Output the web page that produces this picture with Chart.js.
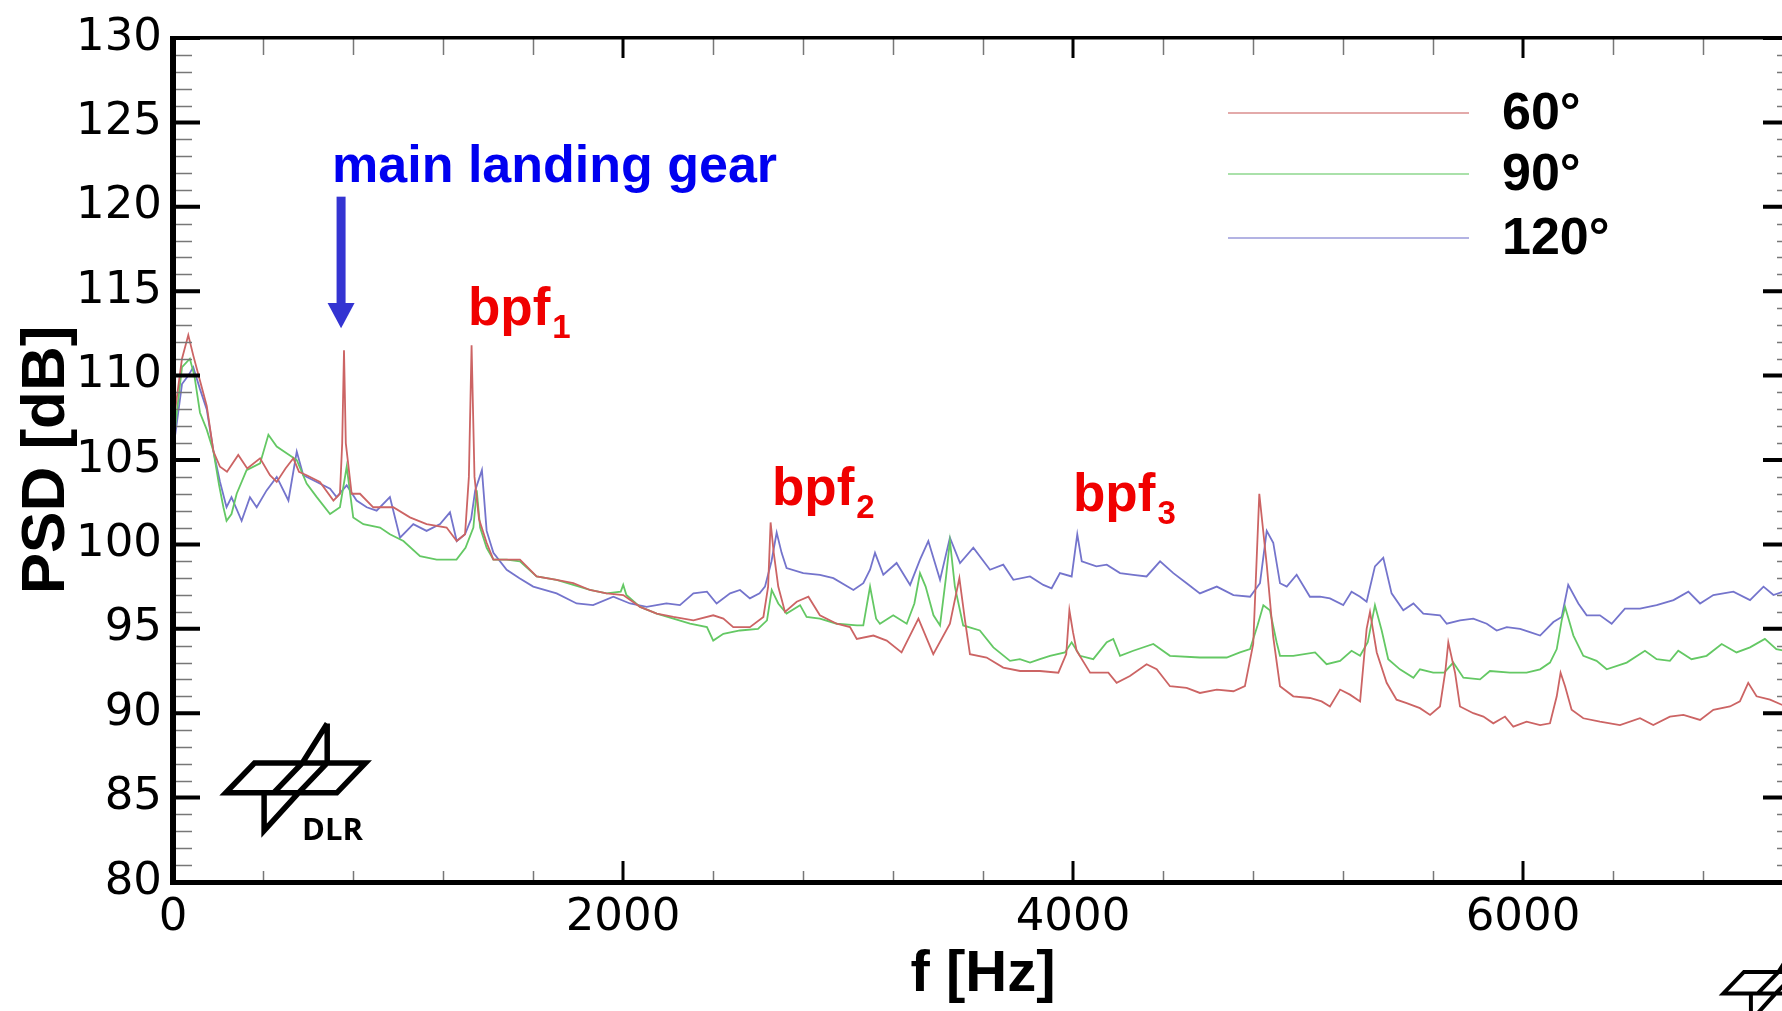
<!DOCTYPE html>
<html>
<head>
<meta charset="utf-8">
<title>PSD</title>
<script src="https://cdn.jsdelivr.net/npm/chart.js@4.4.0/dist/chart.umd.min.js"></script>
<style>
  html, body { margin: 0; padding: 0; background: #fff; overflow: hidden; }
  #wrap { width: 1800px; height: 1011px; }
</style>
</head>
<body>
<div id="wrap"><canvas id="canvas1" width="1800" height="1011"></canvas></div>
<script>
// frequency axis [Hz] and PSD [dB]
const freq60 = [10,40,68,90,120,150,180,209,240,290,330,387,431,461,500,535,560,594,653,713,742,752,760,768,794,831,890,979,1053,1127,1216,1261,1298,1315,1327,1340,1360,1394,1424,1483,1542,1616,1705,1779,1853,1927,2001,2076,2150,2224,2313,2401,2446,2490,2564,2624,2645,2656,2670,2690,2720,2772,2824,2875,2950,3009,3039,3113,3172,3238,3313,3379,3453,3495,3520,3542,3616,3690,3765,3853,3935,3970,3984,4000,4016,4076,4157,4194,4253,4327,4372,4431,4505,4564,4639,4713,4764,4801,4828,4861,4890,4920,4979,5053,5105,5142,5187,5231,5276,5305,5320,5350,5394,5438,5483,5542,5587,5631,5655,5668,5698,5720,5779,5824,5868,5920,5957,6016,6076,6120,6150,6167,6187,6216,6268,6342,6431,6520,6579,6653,6713,6787,6846,6920,6964,7001,7038,7098,7150,7200];
const psd60 = [108,111,112.4,111.2,109.7,108.2,105.5,104.6,104.3,105.3,104.5,105.1,104.1,103.7,104.5,105.1,104.3,104.1,103.7,102.6,103.0,106,111.5,106,103.0,103.0,102.2,102.2,101.6,101.2,101.0,100.2,100.6,104,111.8,104,101.5,100.1,99.1,99.1,99.1,98.1,97.9,97.7,97.3,97.1,97.0,96.3,95.9,95.7,95.5,95.8,95.6,95.1,95.1,95.7,97.5,101.3,99.5,97.5,96.0,96.6,96.9,95.8,95.3,95.1,94.4,94.6,94.3,93.6,95.6,93.5,95.3,98.0,95.5,93.5,93.3,92.7,92.5,92.5,92.4,93.5,96.1,94.8,93.7,92.4,92.4,91.8,92.2,92.9,92.6,91.6,91.5,91.2,91.4,91.3,91.6,94.1,103.0,98.8,94.5,91.6,91.0,90.9,90.7,90.4,91.4,91.1,90.7,95.0,96.0,93.6,91.8,90.8,90.6,90.3,89.9,90.4,92.5,94.2,92.4,90.4,90.0,89.8,89.4,89.8,89.2,89.5,89.3,89.4,91.0,92.4,91.6,90.2,89.7,89.5,89.3,89.7,89.3,89.8,89.9,89.6,90.2,90.4,90.7,91.8,91.0,90.8,90.5,90.3];

const freq90 = [10,40,75,95,120,150,180,205,224,238,260,283,327,387,424,461,505,550,594,639,698,742,772,801,846,920,964,1024,1098,1172,1260,1300,1335,1350,1365,1394,1424,1483,1542,1616,1705,1779,1853,1927,1990,2001,2015,2076,2150,2224,2298,2373,2401,2446,2520,2600,2640,2661,2690,2727,2787,2816,2875,2950,3040,3068,3098,3125,3142,3201,3261,3295,3320,3345,3380,3409,3435,3453,3475,3512,3586,3646,3720,3764,3809,3853,3898,3964,3994,4031,4090,4150,4179,4209,4268,4357,4431,4564,4683,4742,4787,4820,4846,4875,4905,4920,4979,5076,5127,5187,5238,5276,5310,5342,5372,5401,5453,5513,5542,5601,5650,5690,5735,5809,5853,5942,6016,6076,6120,6150,6172,6187,6224,6268,6327,6372,6461,6542,6594,6653,6690,6749,6816,6883,6949,7009,7075,7126,7200];
const psd90 = [107,110.5,111.0,110,107.8,106.8,105.5,103.5,102.2,101.4,101.8,103.0,104.4,104.8,106.5,105.8,105.4,105.0,103.6,102.8,101.8,102.2,104.6,101.6,101.2,101.0,100.6,100.2,99.3,99.1,99.1,99.8,101,103.2,101,99.8,99.1,99.1,99.0,98.1,97.9,97.6,97.3,97.1,97.2,97.6,97.0,96.3,95.9,95.6,95.3,95.1,94.3,94.7,94.9,95.0,95.5,97.3,96.5,95.9,96.4,95.7,95.6,95.3,95.2,95.2,97.5,95.6,95.3,95.8,95.3,96.5,98.3,97.5,95.8,95.2,98,100.2,97.5,95.2,94.9,93.9,93.1,93.2,93.0,93.2,93.4,93.6,94.2,93.4,93.2,94.2,94.4,93.4,93.7,94.1,93.4,93.3,93.3,93.6,93.8,95.2,96.4,96.1,94.2,93.4,93.4,93.6,92.9,93.1,93.7,93.4,94.2,96.4,94.9,93.2,92.6,92.1,92.6,92.4,92.4,93.0,92.1,92.0,92.5,92.4,92.4,92.6,93.0,93.8,95.5,96.3,94.6,93.4,93.1,92.6,93.0,93.7,93.2,93.1,93.7,93.2,93.4,94.1,93.6,93.9,94.4,93.8,93.6];

const freq120 = [10,40,68,90,120,150,180,209,238,260,305,342,372,416,461,513,550,579,639,698,727,772,816,861,905,964,1009,1068,1127,1187,1231,1261,1298,1325,1343,1373,1394,1424,1483,1540,1601,1705,1794,1867,1957,2031,2105,2193,2253,2313,2373,2416,2476,2520,2564,2607,2631,2660,2683,2705,2727,2801,2875,2935,3024,3068,3098,3120,3157,3216,3276,3320,3357,3409,3453,3498,3557,3631,3690,3735,3809,3868,3905,3942,3994,4019,4039,4104,4150,4209,4268,4327,4387,4446,4505,4564,4639,4713,4787,4831,4861,4890,4920,4950,4994,5053,5098,5142,5201,5238,5276,5305,5342,5379,5416,5468,5513,5557,5631,5661,5720,5779,5839,5883,5928,5987,6031,6076,6135,6172,6201,6246,6283,6342,6394,6453,6520,6594,6669,6735,6787,6846,6935,7009,7069,7113,7200];
const psd120 = [106.5,109.5,110,110.5,109.2,108.0,105.5,103.7,102.2,102.8,101.4,102.8,102.2,103.2,104.0,102.6,105.5,104.1,103.7,103.3,102.8,103.5,102.6,102.2,102.0,102.8,100.4,101.2,100.8,101.2,101.9,100.2,100.6,101.5,103.2,104.4,100.8,99.5,98.5,98.0,97.5,97.1,96.5,96.4,96.9,96.5,96.3,96.5,96.4,97.1,97.2,96.5,97.1,97.3,96.8,97.1,97.5,99,100.7,99.5,98.6,98.3,98.2,98.0,97.3,97.7,98.5,99.5,98.2,98.9,97.6,99.1,100.2,97.9,100.4,98.9,99.8,98.5,98.8,97.9,98.1,97.6,97.4,98.3,98.1,100.6,99.0,98.7,98.8,98.3,98.2,98.1,99.0,98.3,97.7,97.1,97.5,97.0,96.9,97.7,100.8,100.1,97.7,97.5,98.2,96.9,96.9,96.8,96.4,97.2,96.9,96.6,98.7,99.2,97.1,96.1,96.5,95.9,95.8,95.3,95.5,95.6,95.3,94.9,95.1,95.0,94.8,94.6,95.4,95.7,97.6,96.5,95.8,95.8,95.3,96.2,96.2,96.4,96.7,97.2,96.5,97.0,97.2,96.7,97.5,97.0,97.4];

const seriesLabels = ['60°', '90°', '120°'];
const seriesColors = ['#cc6464', '#64c864', '#7474cc'];
const xTickValues = [0, 2000, 4000, 6000];
const yTickValues = [80, 85, 90, 95, 100, 105, 110, 115, 120, 125, 130];

function pairs(fs, vs) {
  return fs.map(function (f, i) { return {x: f, y: vs[i]}; });
}

const tickFont = {family: '"DejaVu Sans", sans-serif', size: 45};
const boldFamily = '"Liberation Sans", Arial, sans-serif';

// frame with inward ticks on all four sides
const frame = {
  id: 'frame',
  afterDatasetsDraw(chart) {
    const {ctx, chartArea: a, scales: {x, y}} = chart;
    ctx.save();
    ctx.lineCap = 'butt';
    // minor ticks
    ctx.strokeStyle = '#777';
    ctx.lineWidth = 1.5;
    ctx.beginPath();
    for (let v = 81; v < 130; v++) {
      if (v % 5 === 0) continue;
      const py = Math.round(y.getPixelForValue(v)) + 0.5;
      ctx.moveTo(a.left, py); ctx.lineTo(a.left + 19, py);
      ctx.moveTo(a.right, py); ctx.lineTo(a.right - 16, py);
    }
    for (let f = 400; f < 7200; f += 400) {
      if (f % 2000 === 0) continue;
      const px = Math.round(x.getPixelForValue(f)) + 0.5;
      ctx.moveTo(px, a.bottom); ctx.lineTo(px, a.bottom - 11);
      ctx.moveTo(px, a.top); ctx.lineTo(px, a.top + 17);
    }
    ctx.stroke();
    // major ticks
    ctx.strokeStyle = '#000';
    ctx.lineWidth = 4;
    ctx.beginPath();
    yTickValues.forEach(function (v) {
      const py = y.getPixelForValue(v);
      ctx.moveTo(a.left, py); ctx.lineTo(a.left + 27, py);
      ctx.moveTo(a.right, py); ctx.lineTo(a.right - 30, py);
    });
    ctx.stroke();
    ctx.lineWidth = 3;
    ctx.beginPath();
    xTickValues.forEach(function (f) {
      const px = x.getPixelForValue(f);
      ctx.moveTo(px, a.bottom); ctx.lineTo(px, a.bottom - 21);
      ctx.moveTo(px, a.top); ctx.lineTo(px, a.top + 20);
    });
    ctx.stroke();
    // axis lines
    ctx.fillStyle = '#000';
    ctx.fillRect(a.left - 3, a.top - 2, 6, a.bottom - a.top + 4);
    ctx.fillRect(a.left - 3, a.bottom - 2, a.right - a.left + 6, 5);
    ctx.fillRect(a.left - 3, a.top - 2, a.right - a.left + 6, 3.5);
    ctx.fillRect(a.right - 2, a.top - 2, 3.5, a.bottom - a.top + 4);
    ctx.restore();
  }
};

// legend, annotations and DLR marks
function dlrLogo(ctx, ox, oy, s) {
  // ox, oy: top-left corner of the wing
  ctx.save();
  ctx.translate(ox, oy);
  ctx.scale(s, s);
  ctx.strokeStyle = '#000';
  ctx.lineWidth = 5.5;
  ctx.lineJoin = 'miter';
  ctx.beginPath();
  ctx.moveTo(0, 0); ctx.lineTo(111, 0); ctx.lineTo(82.3, 29.8); ctx.lineTo(-28.7, 29.8); ctx.closePath();
  ctx.moveTo(72.7, -39.5); ctx.lineTo(72.7, 0); ctx.lineTo(44, 29.8);
  ctx.moveTo(72.7, -39.5); ctx.lineTo(47.8, 0); ctx.lineTo(19.1, 29.8);
  ctx.moveTo(9.6, 29.8); ctx.lineTo(9.6, 67.6); ctx.lineTo(44, 29.8);
  ctx.stroke();
  ctx.restore();
}

const extras = {
  id: 'extras',
  afterDraw(chart) {
    const {ctx, chartArea: a, scales: {x, y}} = chart;
    ctx.save();
    // legend
    const legY = [113, 174, 238];
    ctx.font = 'bold 52px ' + boldFamily;
    ctx.textBaseline = 'alphabetic';
    chart.data.datasets.forEach(function (ds, i) {
      ctx.globalAlpha = 0.55;
      ctx.strokeStyle = ds.borderColor;
      ctx.lineWidth = 2;
      ctx.beginPath();
      ctx.moveTo(1228, legY[i]); ctx.lineTo(1469, legY[i]);
      ctx.stroke();
      ctx.globalAlpha = 1;
      ctx.fillStyle = '#000';
      ctx.fillText(ds.label, 1502, legY[i] + 16);
    });

    // arrow to the main landing gear peak
    const ax = x.getPixelForValue(747);
    const aTop = y.getPixelForValue(120.6);
    const aBase = y.getPixelForValue(114.3);
    const aTip = y.getPixelForValue(112.8);
    ctx.fillStyle = '#3434d2';
    ctx.fillRect(ax - 4.5, aTop, 9, aBase - aTop + 1);
    ctx.beginPath();
    ctx.moveTo(ax - 13.5, aBase); ctx.lineTo(ax + 13.5, aBase); ctx.lineTo(ax, aTip); ctx.closePath();
    ctx.fill();

    ctx.fillStyle = '#0000f0';
    ctx.font = 'bold 52px ' + boldFamily;
    ctx.fillText('main landing gear', x.getPixelForValue(707), y.getPixelForValue(121.45));

    // blade passing frequencies
    [['1', 1311, 113.0], ['2', 2662, 102.35], ['3', 4000, 101.95]].forEach(function (b) {
      const px = x.getPixelForValue(b[1]);
      const py = y.getPixelForValue(b[2]);
      ctx.fillStyle = '#f00000';
      ctx.font = 'bold 53px ' + boldFamily;
      ctx.fillText('bpf', px, py);
      const w = ctx.measureText('bpf').width;
      ctx.font = 'bold 33px ' + boldFamily;
      ctx.fillText(b[0], px + w + 2, py + 13);
    });

    // DLR logos
    dlrLogo(ctx, a.left + 81.5, a.bottom - 119, 1);
    ctx.fillStyle = '#000';
    ctx.font = 'bold 31px "Open Sans", "DejaVu Sans", sans-serif';
    ctx.fillText('DLR', a.left + 129, a.bottom - 42);
    dlrLogo(ctx, 1744, 972, 0.72);
    ctx.restore();
  }
};

new Chart(document.getElementById('canvas1'), {
  type: 'line',
  data: {
    datasets: [
      {label: seriesLabels[0], data: pairs(freq60, psd60), borderColor: seriesColors[0]},
      {label: seriesLabels[1], data: pairs(freq90, psd90), borderColor: seriesColors[1]},
      {label: seriesLabels[2], data: pairs(freq120, psd120), borderColor: seriesColors[2]}
    ].map(function (d) {
      d.borderWidth = 1.8;
      d.pointRadius = 0;
      d.tension = 0;
      d.fill = false;
      return d;
    })
  },
  options: {
    responsive: false,
    animation: false,
    devicePixelRatio: 1,
    layout: {padding: {top: 28, right: 7, left: 0, bottom: 0}},
    plugins: {legend: {display: false}, tooltip: {enabled: false}},
    scales: {
      x: {
        type: 'linear',
        min: 0,
        max: 7200,
        afterBuildTicks: function (s) { s.ticks = xTickValues.map(function (v) { return {value: v}; }); },
        afterFit: function (s) { s.height = 129; },
        grid: {display: false, drawTicks: false},
        border: {display: false},
        ticks: {font: tickFont, color: '#000', padding: 9, maxRotation: 0, autoSkip: false,
                callback: function (v) { return String(v); }},
        title: {display: true, text: 'f [Hz]', color: '#000', font: {family: boldFamily, weight: 'bold', size: 58}, padding: {top: 0, bottom: 1}}
      },
      y: {
        min: 80,
        max: 130,
        afterBuildTicks: function (s) { s.ticks = yTickValues.map(function (v) { return {value: v}; }); },
        afterFit: function (s) { s.width = 173; },
        grid: {display: false, drawTicks: false},
        border: {display: false},
        ticks: {font: tickFont, color: '#000', padding: 11, autoSkip: false,
                callback: function (v) { return String(v); }},
        title: {display: true, text: 'PSD [dB]', color: '#000', font: {family: boldFamily, weight: 'bold', size: 62}, padding: {top: 10, bottom: 0}}
      }
    }
  },
  plugins: [frame, extras]
});
</script>
</body>
</html>
